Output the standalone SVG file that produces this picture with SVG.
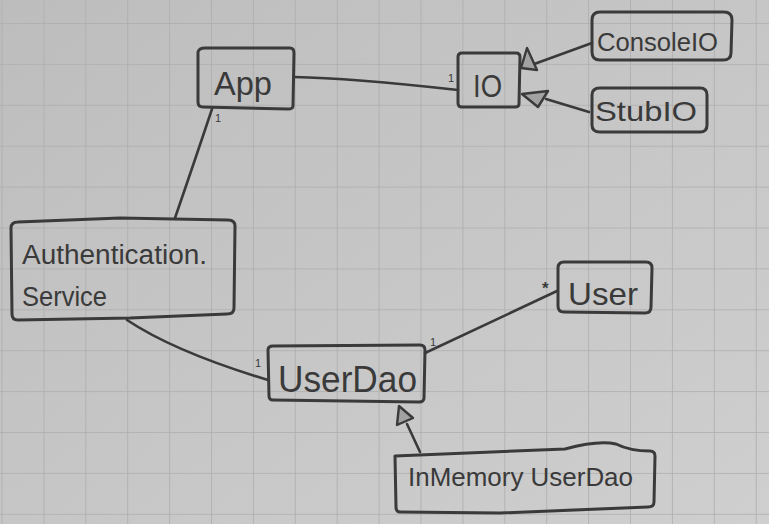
<svg xmlns="http://www.w3.org/2000/svg" width="769" height="524" viewBox="0 0 769 524">
  <defs>
    <linearGradient id="paper" x1="0" y1="0" x2="1" y2="1">
      <stop offset="0" stop-color="#bdbdbd"/>
      <stop offset="1" stop-color="#cfcfcf"/>
    </linearGradient>
    <pattern id="grid" patternUnits="userSpaceOnUse" x="1.5" y="23" width="41.9" height="40.9">
      <path d="M0,0 H41.9 M0,0 V40.9" fill="none" stroke="#adadad" stroke-width="1.6"/>
    </pattern>
  </defs>
  <style>
    .box { fill: none; stroke: #3a3a3a; stroke-width: 3; stroke-linejoin: round; }
    .edge { fill: none; stroke: #3a3a3a; stroke-width: 2.6; stroke-linecap: round; }
    .head { fill: #a2a2a2; stroke: #3a3a3a; stroke-width: 2.4; stroke-linejoin: round; }
    .lbl { font-family: "Liberation Sans", Arial, sans-serif; fill: #3a3a3a; }
    .mult { font-family: "Liberation Sans", Arial, sans-serif; fill: #3a3a3a; font-size: 11px; }
    .star { font-size: 17px; font-weight: bold; }
  </style>

  <rect x="0" y="0" width="769" height="524" fill="url(#paper)"/>
  <rect x="0" y="0" width="769" height="524" fill="url(#grid)"/>

  <g id="connectors">
    <path class="edge" d="M294,77 Q350,78 458,90"/>
    <text class="mult" x="448" y="82">1</text>
    <path class="edge" d="M212,109 Q195,160 175,218"/>
    <text class="mult" x="215" y="122">1</text>
    <path class="edge" d="M127,320 Q175,352 268,380"/>
    <text class="mult" x="255" y="367">1</text>
    <path class="edge" d="M425,353 L557,291"/>
    <text class="mult" x="430" y="346">1</text>
    <text class="mult star" x="542" y="294">*</text>
    <path class="edge" d="M592,43 L526,67"/>
    <polygon class="head" points="527,48 521,68 537,70"/>
    <path class="edge" d="M589,112 L546,99"/>
    <polygon class="head" points="522,94 548,91 538,107"/>
    <path class="edge" d="M420,452 L407,424"/>
    <polygon class="head" points="399,406 397,425 413,418"/>
  </g>

  <g id="App">
    <path class="box" d="M198,52 Q199,48 205,48 L290,48 Q294,48 294,53 L293,106 Q293,109 288,109 L203,107 Q198,107 198,102 Z"/>
    <text class="lbl" x="214" y="95" font-size="34" textLength="58" lengthAdjust="spacingAndGlyphs">App</text>
  </g>

  <g id="IO">
    <path class="box" d="M458,57 Q458,53 462,53 L516,53 Q520,53 520,57 L519,104 Q519,107 515,107 L462,107 Q458,107 458,103 Z"/>
    <text class="lbl" x="473" y="97" font-size="32" textLength="29" lengthAdjust="spacingAndGlyphs">IO</text>
  </g>

  <g id="ConsoleIO">
    <path class="box" d="M592,20 Q592,12 600,12 L724,12 Q732,12 732,20 L731,53 Q731,60 723,60 L600,60 Q592,60 592,52 Z"/>
    <text class="lbl" x="597" y="51" font-size="25" textLength="121" lengthAdjust="spacingAndGlyphs">ConsoleIO</text>
  </g>

  <g id="StubIO">
    <path class="box" d="M592,95 Q592,88 600,88 L700,88 Q707,88 707,95 L707,125 Q707,132 700,132 L600,132 Q592,132 592,125 Z"/>
    <text class="lbl" x="595" y="121" font-size="28" textLength="102" lengthAdjust="spacingAndGlyphs">StubIO</text>
  </g>

  <g id="AuthenticationService">
    <path class="box" d="M11,228 Q11,222 18,222 L120,218 L228,220 Q235,220 235,226 L234,308 Q234,314 227,314 L130,318 L18,320 Q12,320 12,314 Z"/>
    <text class="lbl" x="22" y="264" font-size="27" textLength="185" lengthAdjust="spacingAndGlyphs">Authentication.</text>
    <text class="lbl" x="22" y="306" font-size="27" textLength="85" lengthAdjust="spacingAndGlyphs">Service</text>
  </g>

  <g id="UserDao">
    <path class="box" d="M268,350 Q268,346 273,346 L420,345 Q425,345 425,350 L424,398 Q424,402 419,402 L273,400 Q269,400 269,396 Z"/>
    <text class="lbl" x="278" y="392" font-size="36" textLength="139" lengthAdjust="spacingAndGlyphs">UserDao</text>
  </g>

  <g id="User">
    <path class="box" d="M558,268 Q558,262 564,262 L646,262 Q652,262 652,268 L651,307 Q651,313 645,313 L564,312 Q558,312 558,306 Z"/>
    <text class="lbl" x="568" y="305" font-size="32" textLength="70" lengthAdjust="spacingAndGlyphs">User</text>
  </g>

  <g id="InMemoryUserDao">
    <path class="box" d="M395,456 Q500,452 565,449 Q598,440 616,444 Q630,451 650,451 Q655,451 655,456 L654,502 Q654,507 648,507 L500,513 L400,512 Q396,512 396,507 Z"/>
    <text class="lbl" x="408" y="486" font-size="25" textLength="225" lengthAdjust="spacingAndGlyphs">InMemory UserDao</text>
  </g>
</svg>
